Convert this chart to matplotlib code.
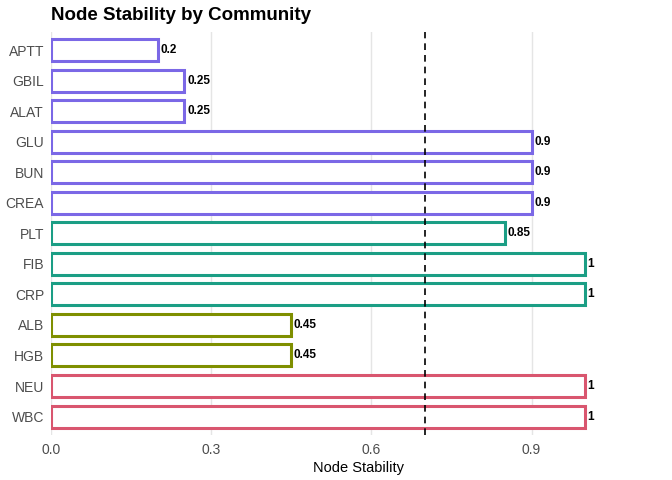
#!/usr/bin/env python3
"""Node stability per community: outlined horizontal bars."""
import matplotlib

matplotlib.use("Agg")
import matplotlib.pyplot as plt

plt.rcParams["font.family"] = ["Liberation Sans", "DejaVu Sans"]

# bottom to top
nodes = ["WBC", "NEU", "HGB", "ALB", "CRP", "FIB", "PLT", "CREA", "BUN", "GLU", "ALAT", "GBIL", "APTT"]
stability = [1, 1, 0.45, 0.45, 1, 1, 0.85, 0.9, 0.9, 0.9, 0.25, 0.25, 0.2]
community = [1, 1, 2, 2, 3, 3, 3, 4, 4, 4, 4, 4, 4]
labels = ["1", "1", "0.45", "0.45", "1", "1", "0.85", "0.9", "0.9", "0.9", "0.25", "0.25", "0.2"]
THRESHOLD = 0.7

COLORS = {1: "#D9566F", 2: "#7F8F00", 3: "#1B9E85", 4: "#7B68E6"}


def main():
    fig = plt.figure(figsize=(6.72, 4.8), dpi=100)
    ax = fig.add_axes([0.0759, 0.094, 0.9137, 0.84])

    ypos = list(range(len(nodes)))
    edge = [COLORS[c] for c in community]
    ax.barh(ypos, stability, height=0.72, color="white", edgecolor=edge, linewidth=2.2, zorder=2)
    for y, v, t in zip(ypos, stability, labels):
        ax.text(v + 0.005, y, t, ha="left", va="center", fontsize=8.5, fontweight="bold", color="black", zorder=4)

    ax.axvline(THRESHOLD, color="black", linestyle=(0, (4, 3)), linewidth=1.2, zorder=3)

    ax.set_xlim(0, 1.15)
    ax.set_ylim(-0.6, len(nodes) - 0.4)
    ax.set_xticks([0.0, 0.3, 0.6, 0.9])
    ax.set_xticklabels(["0.0", "0.3", "0.6", "0.9"])
    ax.set_yticks(ypos)
    ax.set_yticklabels(nodes)
    ax.tick_params(axis="both", length=0, labelsize=10, labelcolor="#4D4D4D")
    ax.tick_params(axis="x", pad=6)
    ax.tick_params(axis="y", pad=5)
    ax.grid(axis="x", color="#E5E5E5", linewidth=1.0, zorder=0)
    ax.set_axisbelow(True)
    for s in ax.spines.values():
        s.set_visible(False)
    ax.set_xlabel("Node Stability", fontsize=10.5, color="black", labelpad=3)
    fig.text(0.0759, 0.968, "Node Stability by Community", fontsize=13.5, fontweight="bold", ha="left", va="center")

    fig.savefig("out.png", dpi=100)
    plt.close(fig)


if __name__ == "__main__":
    main()
